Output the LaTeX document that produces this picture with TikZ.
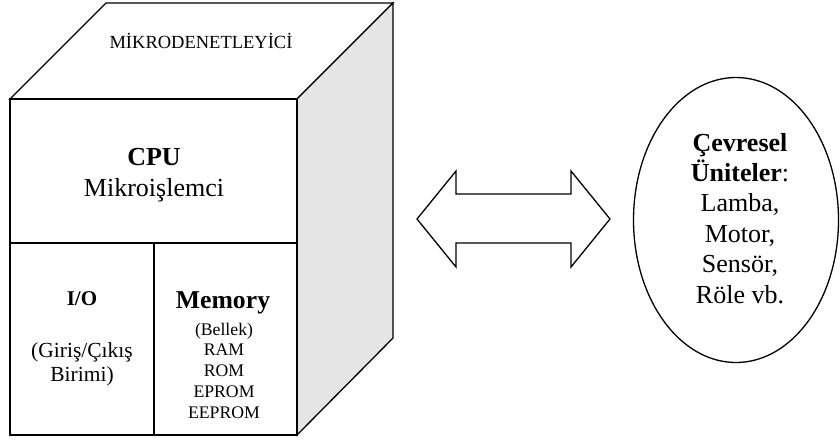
\documentclass[tikz,border=0pt]{standalone}
\usepackage{fontspec}
\setmainfont{Liberation Serif}
\usetikzlibrary{shapes.geometric}
\tikzset{
  edge/.style={draw=black, line width=1.3pt, line join=miter},
  shade/.style={edge, fill=gray!20},
  txt/.style={anchor=base, inner sep=0pt, outer sep=0pt},
  fbig/.style={font=\fontsize{26}{30}\selectfont},
  fmid/.style={font=\fontsize{21.5}{25}\selectfont},
  fsmall/.style={font=\fontsize{17.7}{21}\selectfont},
  ftop/.style={font=\fontsize{18.5}{22}\selectfont},
}
\begin{document}
\begin{tikzpicture}[x=1pt,y=-1pt]
\useasboundingbox (0,0) rectangle (840,440);
% cube
\draw[edge, fill=white] (10,99) -- (106,3) -- (393,3) -- (297,99) -- cycle;
\draw[shade] (297,99) -- (393,3) -- (393,338) -- (297,435) -- cycle;
\draw[edge, fill=white] (10,99) rectangle (297,435);
\draw[edge] (10,243) -- (297,243);
\draw[edge] (154,243) -- (154,435);
% texts in the cube
\node[txt, ftop] (mcu) at (201,48) {MİKRODENETLEYİCİ};
\node[txt, fbig] (cpu) at (154,165) {\textbf{CPU}};
\node[txt, fbig] (mikro) at (154,196) {Mikroişlemci};
\node[txt, font=\fontsize{21}{24}\selectfont] (io) at (82,305) {\textbf{I/O}};
\node[txt, fmid] (io1) at (82,357) {(Giriş/Çıkış};
\node[txt, fmid] (io2) at (82,381.5) {Birimi)};
\node[txt, font=\fontsize{25.7}{30}\selectfont] (mem) at (223,308) {\textbf{Memory}};
\node[txt, fsmall] (mem1) at (224,335) {(Bellek)};
\node[txt, fsmall] (mem2) at (224,355.5) {RAM};
\node[txt, fsmall] (mem3) at (224,376.5) {ROM};
\node[txt, fsmall] (mem4) at (224,397.5) {EPROM};
\node[txt, fsmall] (mem5) at (224,418) {EEPROM};
% double arrow
\draw[edge] (417,219) -- (456,171) -- (456,194) -- (571,194) -- (571,171)
  -- (610,219) -- (571,267) -- (571,243) -- (456,243) -- (456,267) -- cycle;
% peripheral units
\node[ellipse, edge, minimum width=205pt, minimum height=285pt, inner sep=0pt] (per) at (736,220) {};
\node[txt, fbig] (p1) at (740,151) {\textbf{Çevresel}};
\node[txt, fbig] (p2) at (740,181) {\textbf{Üniteler}:};
\node[txt, fbig] (p3) at (740,211) {Lamba,};
\node[txt, fbig] (p4) at (740,242) {Motor,};
\node[txt, fbig] (p5) at (740,272.5) {Sensör,};
\node[txt, fbig] (p6) at (740,303) {Röle vb.};
\end{tikzpicture}
\end{document}
